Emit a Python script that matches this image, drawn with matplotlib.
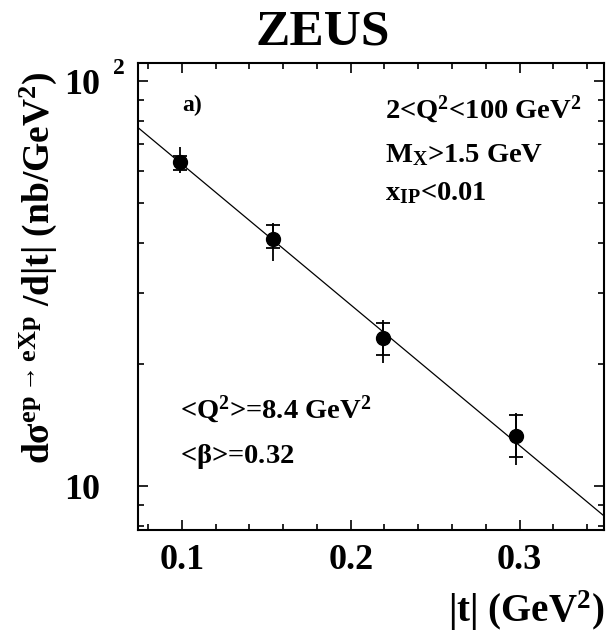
import numpy as np
import matplotlib
matplotlib.use("Agg")
import matplotlib.pyplot as plt
from matplotlib.ticker import FixedLocator, FixedFormatter, MultipleLocator, NullFormatter

plt.rcParams['font.family'] = ['Liberation Serif', 'DejaVu Serif']
plt.rcParams['font.weight'] = 'bold'
plt.rcParams['axes.labelweight'] = 'bold'
plt.rcParams['mathtext.fontset'] = 'custom'
plt.rcParams['mathtext.rm'] = 'Liberation Serif:bold'
plt.rcParams['mathtext.it'] = 'Liberation Serif:bold'
plt.rcParams['mathtext.bf'] = 'Liberation Serif:bold'
plt.rcParams['mathtext.default'] = 'rm'

# data
t = [0.099, 0.154, 0.219, 0.298]
sigma = [63.1, 40.9, 23.2, 13.3]
stat_lo = [2.8, 2.2, 2.1, 1.5]
stat_hi = [2.5, 3.2, 2.1, 1.7]
tot_lo = [3.8, 4.8, 3.0, 2.0]
tot_hi = [5.6, 3.7, 2.5, 1.9]

# exponential fit A*exp(-b|t|)
fit_A = 139.0
fit_b = 8.0

fig = plt.figure(figsize=(6.07, 6.34), dpi=100)
ax = fig.add_axes([0.2273, 0.164, 0.7677, 0.7366])

tt = np.linspace(0.074, 0.35, 200)
ax.plot(tt, fit_A * np.exp(-fit_b * tt), color='black', lw=0.9)

ax.errorbar(t, sigma, yerr=[tot_lo, tot_hi], fmt='none', ecolor='black',
            elinewidth=1.3, capsize=0)
ax.errorbar(t, sigma, yerr=[stat_lo, stat_hi], fmt='o', color='black',
            ms=10, elinewidth=1.3, capsize=4.7, capthick=1.3)

ax.set_yscale('log')
ax.set_xlim(0.074, 0.35)
ax.set_ylim(7.8, 111)

ax.xaxis.set_major_locator(FixedLocator([0.1, 0.2, 0.3]))
ax.xaxis.set_major_formatter(FixedFormatter(['0.1', '0.2', '0.3']))
ax.xaxis.set_minor_locator(MultipleLocator(0.02))
ax.yaxis.set_major_locator(FixedLocator([10, 100]))
ax.yaxis.set_major_formatter(FixedFormatter(['10', '10']))
ax.yaxis.set_minor_locator(FixedLocator([8, 9, 20, 30, 40, 50, 60, 70, 80, 90]))
ax.yaxis.set_minor_formatter(NullFormatter())

ax.tick_params(which='both', direction='in', top=True, right=True, width=1.2)
ax.tick_params(which='major', length=7)
ax.tick_params(which='minor', length=4.3)
ax.tick_params(axis='x', which='major', labelsize=26, pad=10)
ax.tick_params(axis='y', which='major', labelsize=26, pad=27)
for s in ax.spines.values():
    s.set_linewidth(1.5)

ax.annotate('2', xy=(0, 100), xycoords=('axes fraction', 'data'),
            xytext=(-18, 9), textcoords='offset points', fontsize=17,
            ha='left', va='center')

ax.set_ylabel(r'd$\sigma^{ep\rightarrow eXp}$ /d|t| (nb/GeV$^2$)', fontsize=27)
ax.yaxis.set_label_coords(-0.17, 0.561)
ax.set_xlabel(r'|t| (GeV$^2$)', fontsize=28, ha='right', va='top')
ax.xaxis.set_label_coords(1.0, -0.126)

fig.text(0.532, 0.948, 'ZEUS', fontsize=37, ha='center', va='center')

ax.text(0.095, 0.91, 'a)', transform=ax.transAxes, fontsize=17, va='center')
ax.text(0.531, 0.882, r'2<Q$^2$<100 GeV$^2$', transform=ax.transAxes,
        fontsize=20.5, va='baseline')
ax.text(0.531, 0.788, r'M$_X$>1.5 GeV', transform=ax.transAxes,
        fontsize=20.5, va='baseline')
ax.text(0.531, 0.707, r'x$_{IP}$<0.01', transform=ax.transAxes,
        fontsize=20.5, va='baseline')
ax.text(0.090, 0.240, r'<Q$^2$>=8.4 GeV$^2$', transform=ax.transAxes,
        fontsize=20.5, va='baseline')
ax.text(0.090, 0.143, r'<$\beta$>=0.32', transform=ax.transAxes,
        fontsize=20.5, va='baseline')

fig.savefig('out.png', dpi=100)
